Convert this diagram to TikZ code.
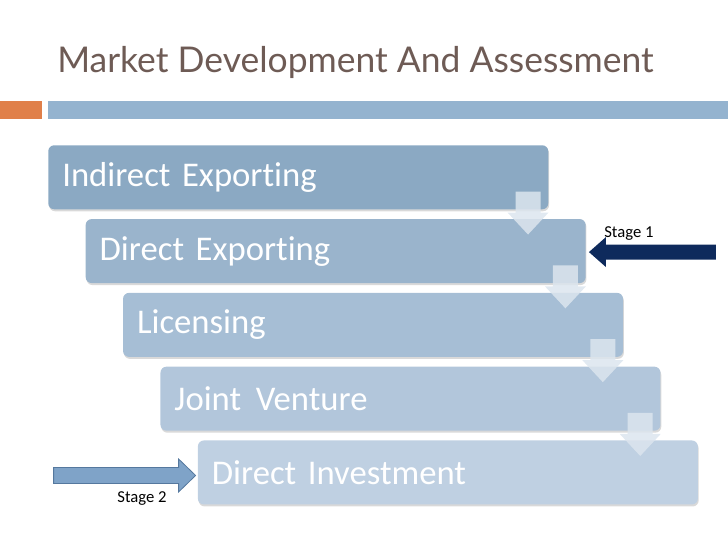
\documentclass[tikz,border=0pt]{standalone}
\usepackage{fontspec}
\setmainfont{Carlito}[Ligatures=NoCommon]
\newfontfamily\titlefont{Lato}
\usetikzlibrary{calc,positioning,shadows}
\definecolor{titlegray}{HTML}{6E5B55}
\definecolor{barblue}{HTML}{94B3CF}
\definecolor{barorange}{HTML}{E0804A}
\definecolor{lev1}{HTML}{8BA9C3}
\definecolor{lev2}{HTML}{9AB4CC}
\definecolor{lev3}{HTML}{A6BED5}
\definecolor{lev4}{HTML}{B2C6DB}
\definecolor{lev5}{HTML}{BFD0E2}
\definecolor{downfill}{HTML}{DCE5EE}
\definecolor{navy}{HTML}{0E2A5C}
\definecolor{stagefill}{HTML}{7FA3C8}
\definecolor{stageline}{HTML}{55789E}

\tikzset{
  stagebox/.style={rectangle, rounded corners=4.5pt, minimum width=375pt, minimum height=48pt,
    text width=354pt, inner xsep=10.5pt, align=left, anchor=north west, text=white,
    font=\fontsize{26}{30}\selectfont,
    drop shadow={shadow xshift=0.6pt, shadow yshift=-1.5pt, opacity=0.3}},
  downarrow/.style={fill=downfill, fill opacity=0.85},
  stagelabel/.style={font=\fontsize{12.5}{14}\selectfont, inner sep=0pt},
}

\begin{document}
\begin{tikzpicture}[x=0.75pt, y=-0.75pt]
  \useasboundingbox (0,0) rectangle (728,546);
  % title and rule
  \node[font=\titlefont\fontsize{26.6}{30}\selectfont, text=titlegray, anchor=base west, inner sep=0pt] (title) at (57,72) {Market Development And Assessment};
  \fill[barorange] (0,101) rectangle (42,119);
  \fill[barblue] (48,101) rectangle (728,119);
  % stair of boxes
  \foreach \txt [count=\i] in {Indirect Exporting, Direct Exporting, Licensing, Joint\hspace{0.42em}Venture, Direct Investment} {
    \pgfmathsetmacro{\bx}{48+37.4*(\i-1)}
    \pgfmathsetmacro{\by}{145+73.8*(\i-1)}
    \node[stagebox, fill=lev\i] (b\i) at (\bx,\by) {\txt};
  }
  % down arrows between the boxes
  \foreach \i in {1,...,4} {
    \begin{scope}[shift={(b\i.south east)}]
      \fill[downarrow] (-33,-18) -- (-8,-18) -- (-8,3) -- (0,3) -- (-20.5,25) -- (-41,3) -- (-33,3) -- cycle;
    \end{scope}
  }
  % stage 1
  \begin{scope}[shift={($(b2.east)+(3,1)$)}]
    \fill[navy] (0,0) -- (17,-15) -- (17,-7.5) -- (127,-7.5) -- (127,7.5) -- (17,7.5) -- (17,15) -- cycle;
  \end{scope}
  \node[stagelabel, anchor=base west] (s1) at (604,237) {Stage 1};
  % stage 2
  \begin{scope}[shift={($(b5.west)+(-2,3)$)}]
    \filldraw[fill=stagefill, draw=stageline, line width=0.6pt] (0,0) -- (-17,-16.5) -- (-17,-8) -- (-142,-8) -- (-142,8) -- (-17,8) -- (-17,16.5) -- cycle;
  \end{scope}
  \node[stagelabel] (s2) at (142,499) {Stage 2};
\end{tikzpicture}
\end{document}
